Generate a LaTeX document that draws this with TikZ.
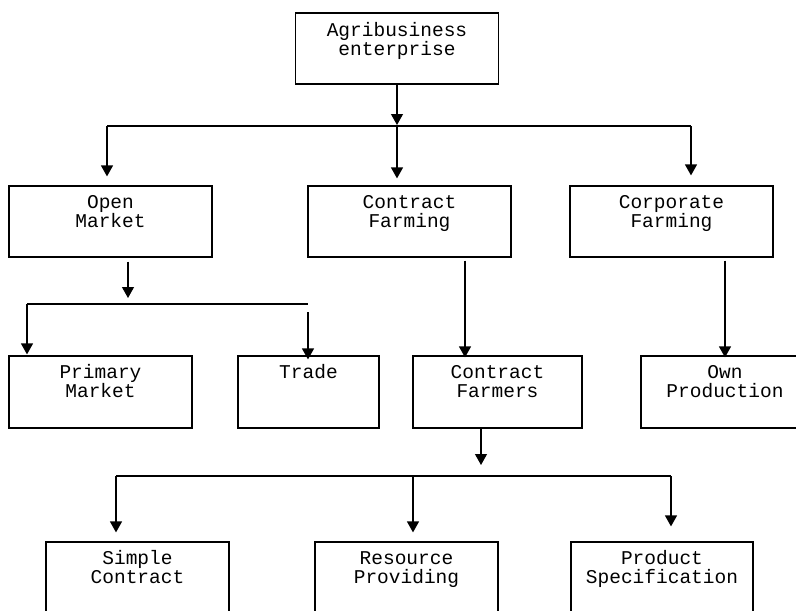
\documentclass[tikz,border=0pt]{standalone}
\usepackage{fontspec}
\newfontfamily\monofam{Liberation Mono}
\usetikzlibrary{arrows.meta,calc}
\tikzset{
  box/.style={draw, line width=1.2pt, inner sep=0pt, minimum height=71pt},
  lbl/.style={anchor=base, align=center, inner sep=0pt,
    font=\monofam\fontsize{19.5}{19}\selectfont},
  ln/.style={line width=1.2pt},
  arr/.style={line width=1.2pt, -{Triangle[width=12pt,length=11pt]}}
}
\begin{document}
\begin{tikzpicture}[x=1pt,y=-1pt]
\useasboundingbox (0,0) rectangle (796,611);
\clip (0,0) rectangle (796,611);
% boxes (two-line labels: base anchor is the last line's baseline)
\node[box, minimum width=203pt] (ae) at (397,48.5) {};
\node[lbl] (aet) at ([yshift=-43.5pt]ae.north) {Agribusiness\\enterprise};
\node[box, minimum width=203pt] (om) at (110.5,221.5) {};
\node[lbl] (omt) at ([yshift=-42pt]om.north) {Open\\Market};
\node[box, minimum width=203pt] (cf) at (409.5,221.5) {};
\node[lbl] (cft) at ([yshift=-42pt]cf.north) {Contract\\Farming};
\node[box, minimum width=203pt] (cpf) at (671.5,221.5) {};
\node[lbl] (cpft) at ([yshift=-42pt]cpf.north) {Corporate\\Farming};
\node[box, minimum width=183pt, minimum height=72pt] (pm) at (100.5,392) {};
\node[lbl] (pmt) at ([yshift=-42.5pt]pm.north) {Primary\\Market};
\node[box, minimum width=141pt, minimum height=72pt] (tr) at (308.5,392) {};
\node[lbl] (trt) at ([yshift=-23.5pt]tr.north) {Trade};
\node[box, minimum width=169pt, minimum height=72pt] (cfr) at (497.5,392) {};
\node[lbl] (cfrt) at ([yshift=-42.5pt]cfr.north) {Contract\\Farmers};
\node[box, minimum width=168pt, minimum height=72pt] (op) at (725,392) {};
\node[lbl] (opt) at ([yshift=-42.5pt]op.north) {Own\\Production};
\node[box, minimum width=183pt, minimum height=74pt] (sc) at (137.5,579) {};
\node[lbl] (sct) at ([yshift=-42.5pt]sc.north) {Simple\\Contract};
\node[box, minimum width=183pt, minimum height=74pt] (rp) at (406.5,579) {};
\node[lbl] (rpt) at ([yshift=-42.5pt]rp.north) {Resource\\Providing};
\node[box, minimum width=182pt, minimum height=74pt] (ps) at (662,579) {};
\node[lbl] (pst) at ([yshift=-42.5pt]ps.north) {Product\\Specification};
% bus coordinates
\coordinate (b1L) at (107,126);
\coordinate (b1M) at (397,126);
\coordinate (b1R) at (691,126);
\coordinate (b2L) at (27,304);
\coordinate (b2M) at (128,304);
\coordinate (b2R) at (308,304);
\coordinate (cfx) at (465,0);
\coordinate (b3L) at (116,476);
\coordinate (b3C) at (413,476);
\coordinate (b3M) at (481,476);
\coordinate (b3R) at (671,476);
% level 1
\draw[arr, shorten >=1pt] (ae.south) -- (ae.south |- b1M);
\draw[ln] (b1L) -- (b1R);
\draw[arr, shorten >=9pt] (b1L) -- (b1L |- om.north);
\draw[arr, shorten >=7pt] (b1M) -- (b1M |- cf.north);
\draw[arr, shorten >=10pt] (b1R) -- (b1R |- cpf.north);
% open market branch
\draw[arr, shorten <=4pt, shorten >=6pt] (om.south -| b2M) -- (b2M);
\draw[ln] (b2L) -- (b2R);
\draw[arr, shorten >=1pt] (b2L) -- (b2L |- pm.north);
\draw[arr, shorten <=8pt, shorten >=-4pt] (b2R) -- (b2R |- tr.north);
% contract farming / corporate
\draw[arr, shorten <=3pt, shorten >=-2pt] (cf.south -| cfx) -- (cfr.north -| cfx);
\draw[arr, shorten <=3pt, shorten >=-2pt] (op.north |- cpf.south) -- (op.north);
% contract farmers branch
\draw[arr, shorten >=11pt] (cfr.south -| b3M) -- (b3M);
\draw[ln] (b3L) -- (b3R);
\draw[arr, shorten >=9pt] (b3L) -- (b3L |- sc.north);
\draw[arr, shorten >=9pt] (b3C) -- (b3C |- rp.north);
\draw[arr, shorten >=15pt] (b3R) -- (b3R |- ps.north);
\end{tikzpicture}
\end{document}
